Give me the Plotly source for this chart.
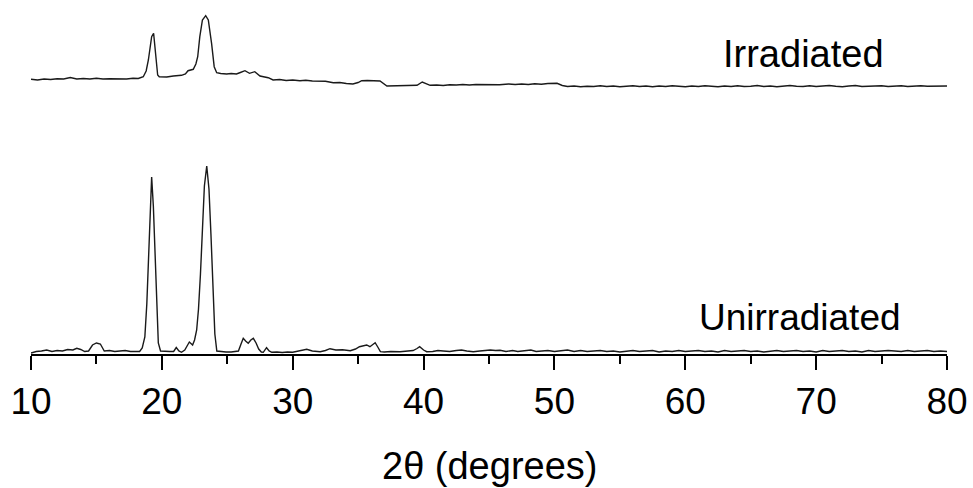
import plotly.graph_objects as go

# ---------------- data ----------------
# Unirradiated pattern: 2-theta (deg) and intensity (a.u.)
uni_2theta = [10.0, 10.4, 10.8, 11.2, 11.6, 12.0, 12.4, 12.8, 13.2, 13.5, 13.8, 14.1, 14.4, 14.7,
              15.0, 15.3, 15.6, 16.0, 16.4, 16.8, 17.2, 17.6, 18.0, 18.3, 18.5, 18.7, 18.85, 19.0,
              19.1, 19.22, 19.35, 19.47, 19.6, 19.73, 19.9, 20.2, 20.6, 20.9, 21.1, 21.3, 21.5, 21.75,
              21.9, 22.1, 22.35, 22.5, 22.66, 22.8, 22.95, 23.1, 23.25, 23.43, 23.6, 23.75, 23.93,
              24.05, 24.2, 24.5, 24.9, 25.3, 25.6, 25.85, 26.05, 26.22, 26.4, 26.6, 26.8, 26.99, 27.2,
              27.4, 27.6, 27.75, 28.0, 28.2, 28.4, 28.8, 29.2, 29.6, 30.0, 30.5, 31.07, 31.5, 32.1,
              32.5, 32.85, 33.3, 33.8, 34.4, 34.8, 35.1, 35.4, 35.65, 35.9, 36.1, 36.3, 36.5, 36.7,
              37.0, 37.5, 38.2, 38.7, 39.2, 39.5, 39.7, 40.0, 40.24, 40.7, 41.1, 41.5, 42.0, 42.5,
              42.9, 43.3, 43.8, 44.3, 44.7, 45.1, 45.5, 45.84, 46.3, 46.8, 47.2, 47.7, 48.2, 48.6,
              49.1, 49.5, 50.0, 50.5, 51.0, 51.5, 52.0, 52.5, 53.0, 53.5, 54.0, 54.5, 55.0, 55.5,
              56.0, 56.5, 57.0, 57.5, 58.0, 58.5, 59.0, 59.5, 60.0, 60.5, 61.0, 61.5, 62.0, 62.5,
              63.0, 63.5, 64.0, 64.5, 65.0, 65.5, 66.0, 66.5, 67.0, 67.5, 68.0, 68.5, 69.0, 69.5,
              70.0, 70.5, 71.0, 71.5, 72.0, 72.5, 73.0, 73.5, 74.0, 74.5, 75.0, 75.5, 76.0, 76.5,
              77.0, 77.5, 78.0, 78.5, 79.0, 79.5, 80.0]
uni_intensity = [1, 2.5, 3, 4, 2.5, 3.5, 3, 4.5, 4, 5.7, 4.5, 2.5, 3, 9,
                 11, 10, 3, 3.5, 2.5, 3, 3.5, 2.5, 2.5, 2.5, 6, 17, 50, 110,
                 150, 177, 148, 104, 45, 11, 3, 2.5, 2.5, 2.5, 6.5, 3, 1.7, 4,
                 7.5, 12, 9, 14, 24, 45, 80, 128, 168, 188, 165, 120, 54,
                 20, 3, 2.5, 2, 2, 2.5, 3, 10, 15.7, 13, 10.7, 14, 15.7, 11,
                 5, 2, 1.7, 6.3, 3, 1.7, 2, 1.5, 2, 1.7, 3, 4.7, 3, 2.3,
                 3.5, 5.3, 4, 4.2, 3.3, 5, 7.3, 8, 9, 7.3, 9.5, 11.3, 7, 2.3,
                 2, 2.5, 2.3, 3, 3.5, 5.5, 7.3, 4, 2.3, 2.5, 3.5, 3, 2.5, 3.5,
                 4, 3, 2.3, 3, 3.5, 4, 3.5, 3.7, 2.5, 3.5, 2.5, 3, 4, 2.5,
                 3, 3.5, 2.5, 3, 4, 2.5, 3.5, 2.5, 3, 3.5, 2.5, 3, 2, 3,
                 3.5, 2.5, 3, 3.5, 2, 3, 2.5, 3.5, 2.5, 3, 3.5, 2.5, 3, 2,
                 3.5, 2.5, 3, 3.5, 2.5, 3, 2, 3, 3.5, 2.5, 3, 3.5, 2.5, 3,
                 2, 3.5, 2.5, 3, 3.5, 2.5, 3, 2, 3.5, 2.5, 3, 3.5, 3, 2.5,
                 3.5, 2.5, 3, 3.5, 2.5, 3, 2.5]

# Irradiated pattern: 2-theta (deg) and intensity (a.u.), plotted with a vertical offset
irr_2theta = [10.0, 10.5, 11.0, 11.5, 12.0, 12.5, 13.0, 13.5, 14.0, 14.5, 15.0, 15.5, 16.0, 16.8,
              17.3, 17.8, 18.2, 18.58, 18.8, 18.97, 19.1, 19.22, 19.37, 19.5, 19.6, 19.68, 19.8,
              20.37, 20.88, 21.5, 21.8, 22.0, 22.4, 22.6, 22.74, 22.9, 23.1, 23.35, 23.55, 23.7,
              23.8, 24.0, 24.19, 24.5, 24.95, 25.3, 25.7, 26.0, 26.35, 26.7, 27.1, 27.5, 27.9, 28.13,
              28.5, 29.0, 29.5, 30.0, 30.55, 31.0, 31.5, 32.0, 32.5, 33.1, 33.6, 34.1, 34.6, 35.0,
              35.27, 35.7, 36.2, 36.67, 37.2, 37.8, 38.5, 39.0, 39.5, 39.9, 40.5, 41.0, 41.5, 42.0,
              42.5, 43.0, 43.5, 44.0, 44.5, 45.0, 45.8, 46.5, 47.0, 47.5, 48.0, 48.5, 49.0, 49.5,
              50.2, 50.6, 51.0, 51.5, 52.0, 52.5, 53.0, 53.5, 54.0, 54.5, 55.0, 55.5, 56.0, 56.5,
              57.0, 57.5, 58.0, 58.5, 59.0, 59.5, 60.0, 60.5, 61.0, 61.5, 62.0, 62.5, 63.0, 63.5,
              64.0, 64.5, 65.0, 65.5, 66.0, 66.5, 67.0, 67.5, 68.0, 68.5, 69.0, 69.5, 70.0, 70.5,
              71.0, 71.5, 72.0, 72.5, 73.0, 73.5, 74.0, 74.5, 75.0, 75.5, 76.0, 76.5, 77.0, 77.5,
              78.0, 78.5, 79.0, 79.5, 80.0]
irr_intensity = [8.7, 8, 9, 8.5, 9.3, 9, 10.5, 9, 9.5, 9, 9.7, 9, 9.3, 8.7,
                 9, 9.7, 9.5, 11.3, 17, 28, 42, 51.3, 54.7, 34.7, 19, 13, 11.3,
                 11, 12, 12.7, 14, 17.3, 18.7, 24, 31.3, 51.3, 68, 72.3, 68, 56,
                 44.7, 21.3, 15.3, 14.5, 14, 14.5, 14, 15.5, 17.3, 14.7, 16.3, 12, 10.7, 10.3,
                 8, 8.5, 7.5, 8, 7.3, 7.7, 7, 6.5, 6.7, 5.3, 5.5, 4.5, 4, 5.5,
                 7.3, 7.5, 7.5, 7, 2, 2.3, 2.7, 2.5, 2.7, 6, 2.7, 3, 2.5, 3.3,
                 3, 3.5, 3, 3.5, 3.3, 3, 3.3, 4, 3.5, 4, 3.5, 4.3, 3.8, 4.5,
                 4.7, 2.5, 1.5, 2, 1.3, 1.8, 1.5, 2.2, 1.5, 2, 1.3, 1.8, 2.3, 1.5,
                 2, 1.3, 2, 1.5, 2.2, 1.8, 1.3, 2, 1.5, 2.3, 1.8, 1.3, 2, 1.5,
                 2.3, 1.5, 1.8, 2.5, 1.5, 2, 1.3, 2, 2.5, 1.8, 1.5, 2.2, 1.5, 2,
                 2.5, 1.8, 1.3, 2, 2.5, 1.5, 2, 1.8, 2.3, 1.5, 2, 2.3, 1.5, 2,
                 2.3, 1.8, 2, 1.5, 2]
irr_offset = 266

labels = ["Irradiated", "Unirradiated"]
tick_values = [10, 20, 30, 40, 50, 60, 70, 80]
x_title = "2θ (degrees)"

# ---------------- figure ----------------
FONT = "Liberation Sans, Arial, Helvetica, sans-serif"
line_style = dict(color="#1a1a1a", width=1.4)

fig = go.Figure()
fig.add_trace(go.Scatter(x=uni_2theta, y=uni_intensity, mode="lines",
                         line=line_style, showlegend=False, hoverinfo="skip"))
fig.add_trace(go.Scatter(x=irr_2theta, y=[v + irr_offset for v in irr_intensity], mode="lines",
                         line=line_style, showlegend=False, hoverinfo="skip"))

fig.update_layout(
    width=973, height=488,
    margin=dict(l=31, r=26, t=0, b=134, pad=0, autoexpand=False),
    paper_bgcolor="white", plot_bgcolor="white",
    font=dict(family=FONT, color="black"),
    xaxis=dict(range=[10, 80], showgrid=False, zeroline=False, automargin=False,
               showline=True, linecolor="black", linewidth=2,
               ticks="outside", ticklen=14, tickwidth=2, tickcolor="black",
               tickvals=tick_values, ticktext=[str(v) for v in tick_values],
               tickfont=dict(size=37, family=FONT, color="black"),
               ticklabelstandoff=0,
               minor=dict(ticks="outside", ticklen=8, tickwidth=2, tickcolor="black",
                          tick0=15, dtick=10, showgrid=False)),
    yaxis=dict(range=[0, 354], visible=False, showgrid=False, zeroline=False, automargin=False),
    annotations=[
        dict(x=69.0, y=(354 - 54) / 354, xref="x", yref="paper", text=labels[0], showarrow=False,
             font=dict(size=38, family=FONT, color="black"), xanchor="center", yanchor="middle"),
        dict(x=68.8, y=(354 - 317) / 354, xref="x", yref="paper", text=labels[1], showarrow=False,
             font=dict(size=37, family=FONT, color="black"), xanchor="center", yanchor="middle"),
        dict(x=0.5, y=(354 - 466) / 354, xref="paper", yref="paper", text=x_title, showarrow=False,
             font=dict(size=38, family=FONT, color="black"), xanchor="center", yanchor="middle"),
    ],
)

fig.write_html("out.html",
               config={"displayModeBar": False, "staticPlot": True},
               post_script="document.body.style.margin='0';document.body.style.padding='0';"
                           "document.documentElement.style.overflow='hidden';")
